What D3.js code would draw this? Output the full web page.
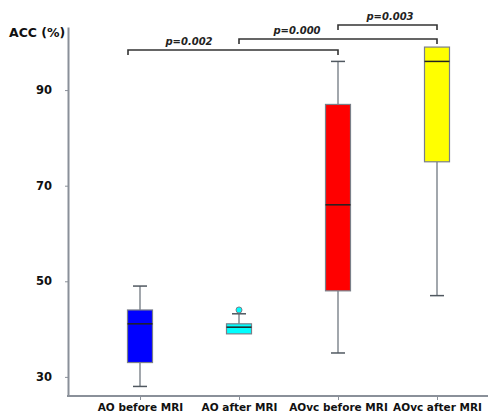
<!DOCTYPE html>
<html>
<head>
<meta charset="utf-8">
<script src="https://cdn.jsdelivr.net/npm/d3@7"></script>
<style>
  body { margin: 0; background: #fff; }
  text { font-family: "DejaVu Sans", Verdana, sans-serif; font-weight: bold; }
</style>
</head>
<body>
<svg width="488" height="415"></svg>
<script>
// groups and box statistics (ACC %)
var groups = ["AO before MRI", "AO after MRI", "AOvc before MRI", "AOvc after MRI"];
var colors = ["#0000ff", "#00ffff", "#ff0000", "#ffff00"];
var mins   = [28, 39, 35, 47];
var q1s    = [33, 39, 48, 75];
var medians= [41.1, 40.4, 66, 96];
var q3s    = [44, 41.1, 87, 99];
var maxs   = [49, 43.2, 96, 99];
var outliers = [{g: "AO after MRI", v: 44}];
var yTicks = [30, 50, 70, 90];

// significance brackets
var brackets = [
  {from: "AO before MRI", to: "AOvc before MRI", level: 0, label: "p=0.002", lx: 189},
  {from: "AO after MRI", to: "AOvc after MRI", level: 1, label: "p=0.000", lx: 297},
  {from: "AOvc before MRI", to: "AOvc after MRI", level: 2, label: "p=0.003", lx: 390}
];
var bracketY = [50, 39, 25];

var svg = d3.select("svg");

var y = d3.scaleLinear().domain([26, 103.2]).range([396, 27]);
var x = d3.scalePoint().domain(groups).range([140, 437]);

var boxW = 25, capW = 14;

// y axis
var yAxis = d3.axisLeft(y).tickValues(yTicks).tickSize(3).tickSizeOuter(0).tickPadding(13);
var ga = svg.append("g").attr("transform", "translate(68,0)").call(yAxis);
ga.select(".domain").attr("stroke", "#8a9099").attr("stroke-width", 2);
ga.selectAll(".tick line").attr("stroke", "#8a9099");
ga.selectAll(".tick text").style("font-size", "11.5px").attr("fill", "#111");

// x axis
svg.append("line").attr("x1", 67).attr("x2", 488).attr("y1", 396).attr("y2", 396)
  .attr("stroke", "#8a9099").attr("stroke-width", 2);
var gx = svg.append("g").attr("transform", "translate(0,396)")
  .call(d3.axisBottom(x).tickSize(4).tickSizeOuter(0).tickPadding(4));
gx.select(".domain").remove();
gx.selectAll(".tick line").attr("stroke", "#8a9099");
gx.selectAll(".tick text").style("font-size", "10.5px").attr("fill", "#111");

svg.append("text").attr("x", 9).attr("y", 37).style("font-size", "12.5px").attr("fill", "#111").text("ACC (%)");

// boxes
groups.forEach(function(g, i) {
  var cx = x(g);
  var grp = svg.append("g");
  grp.append("line").attr("x1", cx).attr("x2", cx).attr("y1", y(maxs[i])).attr("y2", y(q3s[i]))
    .attr("stroke", "#707880").attr("stroke-width", 1.3);
  grp.append("line").attr("x1", cx).attr("x2", cx).attr("y1", y(q1s[i])).attr("y2", y(mins[i]))
    .attr("stroke", "#707880").attr("stroke-width", 1.3);
  if (maxs[i] > q3s[i])
    grp.append("line").attr("x1", cx - capW / 2).attr("x2", cx + capW / 2).attr("y1", y(maxs[i])).attr("y2", y(maxs[i]))
      .attr("stroke", "#505860").attr("stroke-width", 1.5);
  if (mins[i] < q1s[i])
    grp.append("line").attr("x1", cx - capW / 2).attr("x2", cx + capW / 2).attr("y1", y(mins[i])).attr("y2", y(mins[i]))
      .attr("stroke", "#505860").attr("stroke-width", 1.5);
  grp.append("rect").attr("x", cx - boxW / 2).attr("width", boxW)
    .attr("y", y(q3s[i])).attr("height", y(q1s[i]) - y(q3s[i]))
    .attr("fill", colors[i]).attr("stroke", "#7a7f88").attr("stroke-width", 1.2);
  grp.append("line").attr("x1", cx - boxW / 2).attr("x2", cx + boxW / 2).attr("y1", y(medians[i])).attr("y2", y(medians[i]))
    .attr("stroke", "#222").attr("stroke-width", 1.5);
});

outliers.forEach(function(o) {
  svg.append("circle").attr("cx", x(o.g)).attr("cy", y(o.v)).attr("r", 3)
    .attr("fill", "#00ffff").attr("stroke", "#7a7f88").attr("stroke-width", 1);
});

// brackets
brackets.forEach(function(b) {
  var by = bracketY[b.level];
  var x1 = x(b.from), x2 = x(b.to);
  if (b.level === 0) x1 = x1 - 12;
  svg.append("path")
    .attr("d", "M" + x1 + "," + (by + 5) + "V" + by + "H" + x2 + "V" + (by + 5))
    .attr("fill", "none").attr("stroke", "#333").attr("stroke-width", 1.6);
  svg.append("text").attr("x", b.lx).attr("y", by - 5).attr("text-anchor", "middle")
    .style("font-size", "10px").style("font-style", "italic").attr("fill", "#222").text(b.label);
});
</script>
</body>
</html>
